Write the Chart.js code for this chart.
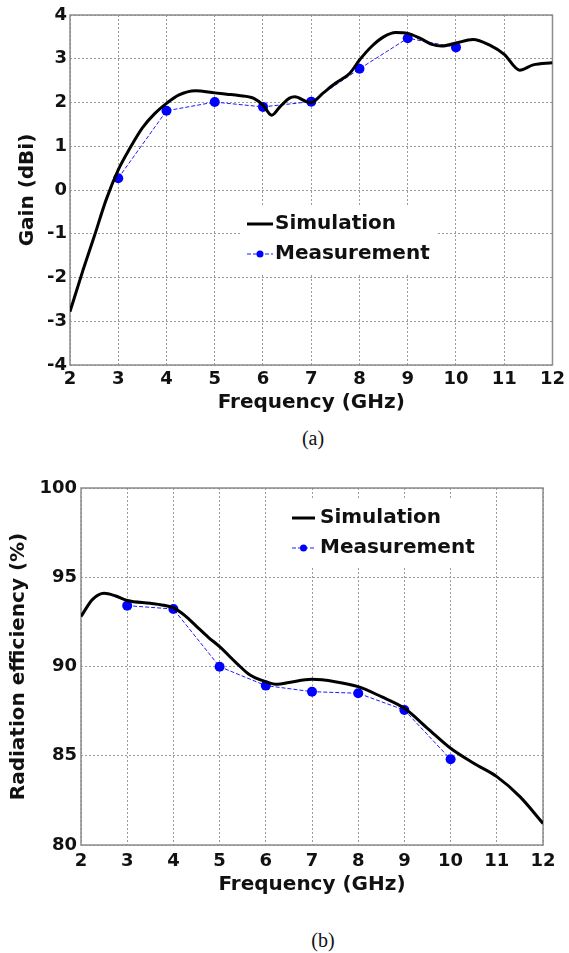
<!DOCTYPE html>
<html>
<head>
<meta charset="utf-8">
<script src="https://cdn.jsdelivr.net/npm/chart.js@4"></script>
<style>
    body { margin: 0; background: #fff; width: 569px; height: 953px; position: relative; overflow: hidden; }
    canvas { position: absolute; left: 0; }
    #gainChart { top: 0; }
    #effChart { top: 460px; }
    .caption { position: absolute; font-family: "Liberation Serif", serif; font-size: 20px; color: #111; transform: translateX(-50%); }
</style>
</head>
<body>
<canvas id="gainChart" width="569" height="420"></canvas>
<div class="caption" style="left:313px; top:427px">(a)</div>
<canvas id="effChart" width="569" height="445"></canvas>
<div class="caption" style="left:323px; top:929px">(b)</div>

<script>
// (a) gain, simulated curve
const gainSimFreq = [2, 2.25, 2.5, 2.75, 3, 3.25, 3.5, 3.75, 4, 4.25, 4.6, 5, 5.25, 5.5, 5.8, 6, 6.18, 6.35, 6.55, 6.66, 6.9, 7, 7.25, 7.5, 7.8, 8, 8.25, 8.5, 8.75, 9, 9.25, 9.5, 9.7, 10, 10.35, 10.7, 11, 11.32, 11.6, 12];
const gainSim = [-2.78, -1.9, -1.07, -0.22, 0.46, 0.97, 1.42, 1.74, 1.98, 2.17, 2.27, 2.22, 2.19, 2.16, 2.1, 1.94, 1.71, 1.9, 2.1, 2.13, 2.02, 2.0, 2.22, 2.44, 2.67, 2.97, 3.28, 3.5, 3.6, 3.58, 3.47, 3.33, 3.29, 3.36, 3.44, 3.31, 3.1, 2.74, 2.86, 2.91];

// measured points (both panels share the frequencies)
const measFreq = [3, 4, 5, 6, 7, 8, 9, 10];
const gainMeas = [0.27, 1.81, 2.01, 1.9, 2.02, 2.77, 3.47, 3.26];

// (b) radiation efficiency
const effSimFreq = [2, 2.25, 2.5, 2.75, 3, 3.5, 3.75, 4, 4.25, 4.5, 4.75, 5, 5.37, 5.66, 6, 6.25, 6.5, 7, 7.5, 8, 8.5, 9, 9.5, 10, 10.5, 11, 11.5, 12];
const effSim = [92.8, 93.76, 94.1, 93.95, 93.7, 93.54, 93.45, 93.28, 92.85, 92.25, 91.65, 91.11, 90.18, 89.52, 89.15, 89.0, 89.1, 89.28, 89.15, 88.87, 88.31, 87.66, 86.54, 85.42, 84.58, 83.83, 82.71, 81.21];
const effMeas = [93.41, 93.22, 89.99, 88.93, 88.59, 88.5, 87.56, 84.8];

const seriesNames = ["Simulation", "Measurement"];
const xTitle = "Frequency (GHz)";

const tickFont = { family: "DejaVu Sans", size: 18, weight: "bold" };
const titleFont = { family: "DejaVu Sans", size: 20, weight: "bold" };
const textColor = "#111";

function toPoints(xs, ys) {
    return xs.map((x, i) => ({ x, y: ys[i] }));
}

// MATLAB style closed box round the plot area
const frameBox = {
    id: "frameBox",
    beforeDatasetsDraw(chart) {
        const { ctx, chartArea: a } = chart;
        ctx.save();
        ctx.strokeStyle = "#8c8c8c";
        ctx.lineWidth = 1.5;
        ctx.strokeRect(a.left, a.top, a.right - a.left, a.bottom - a.top);
        ctx.restore();
    },
};

// legend drawn inside the axes, white patch hides the grid behind it
const insideLegend = {
    id: "insideLegend",
    beforeDatasetsDraw(chart, args, opts) {
        const { ctx, chartArea: a } = chart;
        const bx = a.left + opts.x;
        const by = a.top + opts.y;
        ctx.save();
        ctx.fillStyle = "#fff";
        ctx.fillRect(bx, by, opts.width, opts.height);
        ctx.font = "bold 20px 'DejaVu Sans'";
        ctx.textBaseline = "middle";
        chart.data.datasets.forEach((ds, i) => {
            const rowY = by + opts.firstRow + i * opts.rowGap;
            const x0 = bx + opts.lineStart;
            const x1 = x0 + opts.lineLength;
            ctx.strokeStyle = ds.borderColor;
            ctx.lineWidth = ds.borderWidth;
            ctx.setLineDash(ds.borderDash || []);
            ctx.beginPath();
            ctx.moveTo(x0, rowY);
            ctx.lineTo(x1, rowY);
            ctx.stroke();
            ctx.setLineDash([]);
            if (ds.pointRadius) {
                ctx.fillStyle = ds.backgroundColor;
                ctx.beginPath();
                ctx.arc((x0 + x1) / 2, rowY, 3.5, 0, Math.PI * 2);
                ctx.fill();
            }
            ctx.fillStyle = textColor;
            ctx.fillText(ds.label, x1 + opts.textGap, rowY);
        });
        ctx.restore();
    },
};

function buildChart(canvas, cfg) {
    const grid = { color: "#9a9a9a", lineWidth: 1, drawTicks: false };
    const border = { display: false, dash: [2, 2] };
    return new Chart(canvas, {
        type: "line",
        data: {
            datasets: [
                {
                    label: seriesNames[0],
                    data: toPoints(cfg.simX, cfg.simY),
                    borderColor: "#000",
                    borderWidth: 3,
                    pointRadius: 0,
                    cubicInterpolationMode: "monotone",
                },
                {
                    label: seriesNames[1],
                    data: toPoints(measFreq, cfg.measY),
                    borderColor: "#1a1aff",
                    backgroundColor: "#0000ff",
                    borderWidth: 1,
                    borderDash: [4, 2],
                    pointRadius: 5,
                    pointBorderWidth: 0,
                    tension: 0,
                },
            ],
        },
        options: {
            responsive: false,
            animation: false,
            devicePixelRatio: 1,
            layout: { padding: cfg.padding },
            plugins: {
                legend: { display: false },
                tooltip: { enabled: false },
                insideLegend: cfg.legend,
            },
            scales: {
                x: {
                    type: "linear",
                    min: 2,
                    max: 12,
                    ticks: { stepSize: 1, padding: cfg.xTickPad, font: tickFont, color: textColor },
                    grid,
                    border,
                    title: { display: true, text: xTitle, font: titleFont, color: textColor, padding: { top: 0, bottom: cfg.xTitlePad } },
                    afterFit: (scale) => { scale.height = cfg.xAxisHeight; },
                },
                y: {
                    min: cfg.yMin,
                    max: cfg.yMax,
                    ticks: { stepSize: cfg.yStep, padding: cfg.yTickPad, font: tickFont, color: textColor },
                    grid,
                    border,
                    title: { display: true, text: cfg.yTitle, font: titleFont, color: textColor, padding: { top: cfg.yTitlePad, bottom: 0 } },
                    afterFit: (scale) => { scale.width = cfg.yAxisWidth; },
                },
            },
        },
        plugins: [frameBox, insideLegend],
    });
}

buildChart(document.getElementById("gainChart"), {
    simX: gainSimFreq,
    simY: gainSim,
    measY: gainMeas,
    yMin: -4,
    yMax: 4,
    yStep: 1,
    yTitle: "Gain (dBi)",
    padding: { top: 15, right: 16, left: 0, bottom: 0 },
    xAxisHeight: 55,
    yAxisWidth: 70,
    xTickPad: 4,
    yTickPad: 3,
    xTitlePad: 5,
    yTitlePad: 16,
    legend: { x: 172, y: 190, width: 195, height: 70, lineStart: 5, lineLength: 26, textGap: 2, firstRow: 19, rowGap: 30 },
});

buildChart(document.getElementById("effChart"), {
    simX: effSimFreq,
    simY: effSim,
    measY: effMeas,
    yMin: 80,
    yMax: 100,
    yStep: 5,
    yTitle: "Radiation efficiency (%)",
    padding: { top: 28, right: 26, left: 0, bottom: 0 },
    xAxisHeight: 60,
    yAxisWidth: 81,
    xTickPad: 6,
    yTickPad: 4,
    xTitlePad: 8,
    yTitlePad: 7,
    legend: { x: 206, y: 12, width: 191, height: 67, lineStart: 5, lineLength: 23, textGap: 5, firstRow: 18, rowGap: 30 },
});
</script>
</body>
</html>
